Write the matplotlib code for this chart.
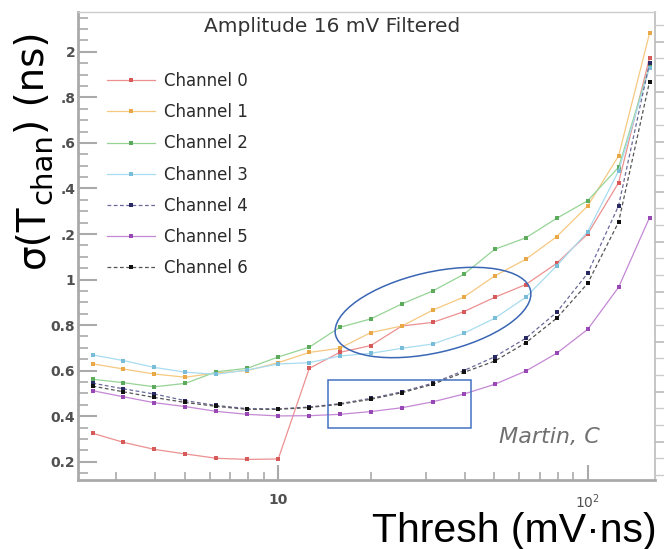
import matplotlib
matplotlib.use("Agg")
import matplotlib.pyplot as plt
from matplotlib.ticker import FixedLocator, FixedFormatter, MultipleLocator, NullFormatter, LogLocator
from matplotlib.patches import Ellipse, Rectangle

# Threshold grid (mV·ns)
thresh = [2.51, 3.16, 3.98, 5.01, 6.31, 7.94, 10.0, 12.6, 15.8, 19.9,
          25.1, 31.6, 39.8, 50.1, 63.1, 79.4, 100.0, 125.9, 158.5]

# Timing resolution per channel (ns)
ch0 = [0.325, 0.285, 0.254, 0.234, 0.215, 0.210, 0.212, 0.610, 0.680, 0.710,
       0.796, 0.812, 0.859, 0.922, 0.978, 1.071, 1.200, 1.425, 1.975]
ch1 = [0.630, 0.607, 0.585, 0.571, 0.590, 0.600, 0.635, 0.680, 0.698, 0.767,
       0.796, 0.866, 0.923, 1.016, 1.089, 1.188, 1.323, 1.543, 2.081]
ch2 = [0.562, 0.547, 0.529, 0.544, 0.595, 0.610, 0.660, 0.703, 0.790, 0.827,
       0.893, 0.950, 1.023, 1.133, 1.183, 1.269, 1.346, 1.493, 1.938]
ch3 = [0.669, 0.644, 0.614, 0.593, 0.584, 0.603, 0.629, 0.635, 0.664, 0.676,
       0.698, 0.717, 0.764, 0.830, 0.922, 1.060, 1.210, 1.477, 1.930]
ch4 = [0.545, 0.520, 0.497, 0.468, 0.447, 0.433, 0.432, 0.440, 0.455, 0.478,
       0.507, 0.545, 0.600, 0.661, 0.742, 0.856, 1.027, 1.324, 1.952]
ch5 = [0.512, 0.485, 0.459, 0.442, 0.421, 0.408, 0.401, 0.402, 0.408, 0.420,
       0.437, 0.463, 0.497, 0.540, 0.598, 0.676, 0.781, 0.966, 1.272]
ch6 = [0.532, 0.507, 0.482, 0.460, 0.443, 0.430, 0.430, 0.438, 0.452, 0.474,
       0.503, 0.540, 0.592, 0.642, 0.722, 0.830, 0.983, 1.252, 1.869]

channels = [ch0, ch1, ch2, ch3, ch4, ch5, ch6]
labels = ["Channel 0", "Channel 1", "Channel 2", "Channel 3",
          "Channel 4", "Channel 5", "Channel 6"]

line_colors = ["#ec9090", "#f6c880", "#96d496", "#a8dcf0", "#6a6a9a", "#c488d4", "#555555"]
mark_colors = ["#d65a5a", "#e9a848", "#5caa5c", "#78bcd8", "#2a2a62", "#9848b4", "#111111"]
line_styles = ["-", "-", "-", "-", (0, (3, 2)), "-", (0, (3, 2))]

y_ticks = [0.2, 0.4, 0.6, 0.8, 1.0, 1.2, 1.4, 1.6, 1.8, 2.0]
y_ticklabels = ["0.2", "0.4", "0.6", "0.8", "1", ".2", ".4", ".6", ".8", "2"]
x_ticks = [10, 100]
x_ticklabels = ["10", "$10^2$"]

W, H = 664, 549
fig = plt.figure(figsize=(W / 100, H / 100), dpi=100)
fig.patch.set_facecolor("white")

ax = fig.add_axes([78 / W, 1 - 480 / H, (655 - 78) / W, (480 - 12) / H])
ax.set_xscale("log")
ax.set_xlim(2.253, 165.1)
ax.set_ylim(0.1196, 2.175)

handles = []
for vals, lab, lc, mc, ls in zip(channels, labels, line_colors, mark_colors, line_styles):
    h, = ax.plot(thresh, vals, color=lc, linestyle=ls, linewidth=0.9,
                 marker="s", markersize=3.2, markerfacecolor=mc,
                 markeredgecolor=mc, markeredgewidth=0, label=lab)
    handles.append(h)

# axis styling
grey = "#aaaaaa"
for side in ["left", "bottom"]:
    ax.spines[side].set_color(grey)
    ax.spines[side].set_linewidth(2)
ax.spines["top"].set_color("#cccccc")
ax.spines["top"].set_linewidth(1)
ax.spines["right"].set_color("#bbbbbb")
ax.spines["right"].set_linewidth(1.2)

ax.yaxis.set_major_locator(FixedLocator(y_ticks))
ax.yaxis.set_major_formatter(FixedFormatter(y_ticklabels))
ax.yaxis.set_minor_locator(MultipleLocator(0.05))
ax.xaxis.set_major_locator(FixedLocator(x_ticks))
ax.xaxis.set_major_formatter(FixedFormatter(x_ticklabels))
ax.xaxis.set_minor_locator(LogLocator(base=10, subs=[2, 3, 4, 5, 6, 7, 8, 9]))
ax.xaxis.set_minor_formatter(NullFormatter())

ax.tick_params(axis="y", which="major", direction="in", length=14, width=1.5,
               color=grey, labelsize=10, labelcolor="#505050", pad=2, right=False)
ax.tick_params(axis="y", which="minor", direction="in", length=7, width=1.2,
               color=grey, right=False)
ax.tick_params(axis="x", which="major", direction="in", length=11, width=1.5,
               color=grey, labelsize=10, labelcolor="#505050", pad=9, top=False)
ax.tick_params(axis="x", which="minor", direction="in", length=6, width=1.2,
               color=grey, top=False)
for t in ax.get_xticklabels() + ax.get_yticklabels():
    t.set_fontweight("bold")

# secondary tick scale along the right edge
ax2 = ax.twinx()
ax2.set_ylim(-0.3, 27.77)
ax2.yaxis.set_major_locator(MultipleLocator(3, offset=2))
ax2.yaxis.set_minor_locator(MultipleLocator(1))
ax2.yaxis.set_major_formatter(NullFormatter())
ax2.tick_params(axis="y", which="major", direction="out", length=9, width=1.2, color="#bbbbbb")
ax2.tick_params(axis="y", which="minor", direction="out", length=7, width=1.0, color="#cccccc")
for s in ax2.spines.values():
    s.set_visible(False)

ax.legend(handles, labels, loc="upper left", bbox_to_anchor=(107 / W, 1 - 72 / H),
          bbox_transform=fig.transFigure, frameon=False, fontsize=12,
          handlelength=2.9, handletextpad=0.5, labelspacing=0.79,
          borderpad=0, borderaxespad=0, labelcolor="#2a2a2a")

ax.text(0.5, 1 - 27 / H, "Amplitude 16 mV Filtered", transform=fig.transFigure,
        ha="center", va="center", fontsize=14.5, color="#333333")
ax.text((494 + 605) / 2 / W, 1 - 437 / H, "Martin, C", transform=fig.transFigure,
        ha="center", va="center", fontsize=16, style="italic", color="#707070")

# axis titles
fig.text(514 / W, 1 - 542 / H, "Thresh (mV·ns)", ha="center", va="baseline",
         fontsize=29.5, family="Liberation Sans", color="black")

fig.canvas.draw()
renderer = fig.canvas.get_renderer()
base_x = 44 / W
y_start = 1 - 268 / H
pieces = [("σ(T", 28, 0.0), ("chan", 21, 7.0), (") (ns)", 28, 0.0)]
cur = y_start
for txt, size, shift in pieces:
    t = fig.text(base_x + shift / W, cur, txt, rotation=90, rotation_mode="anchor",
                 ha="left", va="baseline", fontsize=size, family="DejaVu Sans",
                 color="black")
    ext = t.get_window_extent(renderer=renderer)
    cur = ext.y1 / H

# highlight marks (pixel-space overlay)
over = fig.add_axes([0, 0, 1, 1], facecolor="none")
over.set_xlim(0, W)
over.set_ylim(H, 0)
over.axis("off")
over.add_patch(Ellipse((433, 312.5), 200, 80.6, angle=-12.9, fill=False,
                       edgecolor="#3a66b4", linewidth=1.1))
over.add_patch(Rectangle((327.7, 380.3), 471.3 - 327.7, 428.2 - 380.3, fill=False,
                         edgecolor="#4472c4", linewidth=1.1))

fig.savefig("out.png", dpi=100, facecolor="white")
